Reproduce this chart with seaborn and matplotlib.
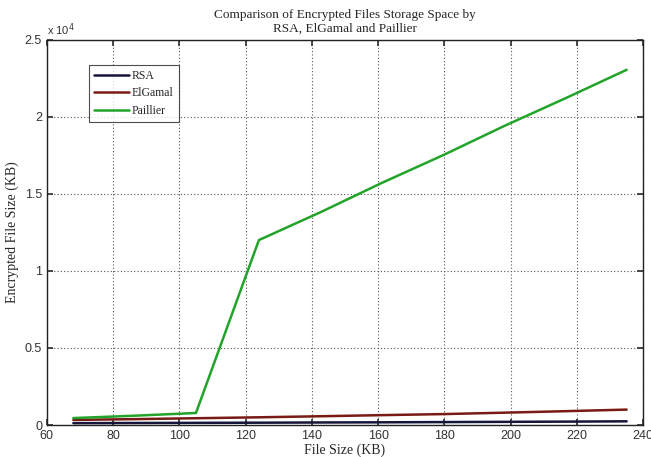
import matplotlib
matplotlib.use("Agg")
import matplotlib.pyplot as plt
import seaborn as sns
import pandas as pd

file_size = [68, 86, 105, 124, 143, 161, 180, 198, 217, 235]
rsa = [120, 130, 140, 150, 165, 175, 190, 205, 220, 240]
elgamal = [330, 380, 440, 500, 570, 640, 710, 800, 900, 1000]
paillier = [450, 600, 780, 12000, 13850, 15700, 17550, 19400, 21250, 23050]
series_names = ["RSA", "ElGamal", "Paillier"]
colors = ["#15153a", "#7a1a14", "#22a329"]

df = pd.DataFrame({"File Size": file_size * 3,
                   "Size": rsa + elgamal + paillier,
                   "Algorithm": [s for s in series_names for _ in file_size]})

sns.set_theme(style="white")
plt.rcParams["font.family"] = ["Liberation Sans", "DejaVu Sans"]

fig = plt.figure(figsize=(6.51, 4.57), dpi=100)
ax = fig.add_axes([0.072, 0.070, 0.916, 0.843])
sns.lineplot(data=df, x="File Size", y="Size", hue="Algorithm",
             palette=colors, linewidth=1.8, ax=ax, legend=True)

ax.set_xlim(60, 240)
ax.set_ylim(0, 25000)
ax.set_xticks(range(60, 241, 20))
ax.set_yticks([0, 5000, 10000, 15000, 20000, 25000])
ax.set_yticklabels(["0", "0.5", "1", "1.5", "2", "2.5"])
ax.tick_params(direction="in", length=4, labelsize=9, colors="#333333",
               top=True, right=True, bottom=True, left=True)
ax.grid(True, linestyle=(0, (1, 2)), color="#555555", linewidth=0.8)
for sp in ax.spines.values():
    sp.set_color("#222222")
    sp.set_linewidth(1.0)

serif = ["Liberation Serif", "DejaVu Serif"]
ax.set_xlabel("File Size (KB)", fontsize=10, family=serif, labelpad=1)
ax.set_ylabel("Encrypted File Size (KB)", fontsize=10, family=serif, labelpad=4)
ax.set_title("Comparison of Encrypted Files Storage Space by\nRSA, ElGamal and Paillier",
             fontsize=9.5, family=serif, pad=6)
ax.text(0.0, 1.005, r"x 10$^4$", transform=ax.transAxes, fontsize=8,
        ha="left", va="bottom", color="#333333")

leg = ax.legend(loc="upper left", bbox_to_anchor=(0.07, 0.935), frameon=True,
                fancybox=False, edgecolor="#222222", prop={"family": serif, "size": 8.5},
                handlelength=3.0, borderpad=0.45, labelspacing=0.45, handletextpad=0.2,
                borderaxespad=0)
leg.get_frame().set_linewidth(0.8)
leg.set_title(None)

fig.savefig("out.png", dpi=100)
